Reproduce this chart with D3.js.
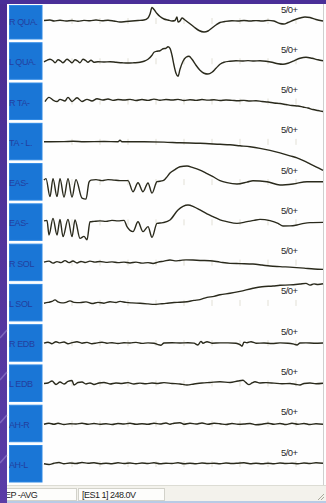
<!DOCTYPE html>
<html>
<head>
<meta charset="utf-8">
<script src="https://cdn.jsdelivr.net/npm/d3@7"></script>
<style>
  html, body { margin: 0; padding: 0; background: #fff; }
  svg { display: block; font-family: "Liberation Sans", Arial, sans-serif; }
</style>
</head>
<body>
<svg id="chart" width="326" height="503"></svg>
<script>
// channel names shown in the blue boxes
const channels = ['R QUA.', 'L QUA.', 'R TA-', 'TA - L.', 'EAS-', 'EAS-', 'R SOL', 'L SOL', 'R EDB', 'L EDB', 'AH-R', 'AH-L'];
// sensitivity / timebase label per channel
const gains = ['5/0+', '5/0+', '5/0+', '5/0+', '5/0+', '5/0+', '5/0+', '5/0+', '5/0+', '5/0+', '5/0+', '5/0+'];
const statusTexts = ['EP -AVG', '[ES1 1] 248.0V'];

// traces: [sample, amplitude]
const rQua = [[0,0.5],[6,1],[10,0],[16,0.8],[22,0],[28,0.5],[34,-0.3],[40,0.6],[46,0.2],[52,1],[58,0.3],[64,0.8],[70,0],[76,-1],[82,-0.5],[88,0],[94,0.5],[100,1],[104,3],[106,7],[108,13.5],[110,11.5],[113,7.5],[116,4.5],[120,2],[124,1],[128,0],[131,0.5],[133,4],[134,-1],[136,0],[138,3],[141,1],[145,-2],[150,-6],[155,-9.5],[160,-11],[164,-10],[168,-7],[172,-4],[176,-1.5],[181,-0.5],[188,0.3],[194,0],[200,0.5],[206,0],[212,0.4],[218,0],[224,0.6],[230,0],[236,-2.5],[240,-3],[244,-1.5],[250,1],[256,3],[261,4],[266,3.5],[272,1.5],[279,0]];
const lQua = [[0,-0.5],[3,1],[6,2],[9,0.5],[11,-1.5],[14,1.5],[17,0],[19,-1.5],[23,2],[26,0],[28,-1.5],[31,1.5],[34,0],[36,-1.5],[39,2],[42,0.5],[44,-1],[47,1],[50,-1],[54,-0.5],[60,-0.8],[66,-0.5],[72,-1],[78,-1.5],[84,-1.8],[90,-1.5],[96,-1],[100,0],[104,2],[108,6],[110,9],[113,10],[116,10.5],[119,12.5],[122,13],[124,14.5],[126,13],[128,6],[130,-4],[132,-12],[134,-15],[136,-8],[139,0],[142,4],[145,5],[148,2],[152,-4],[156,-9],[160,-12],[164,-12.8],[168,-11],[172,-7],[176,-3],[180,-1],[186,0],[192,0.5],[198,0.2],[204,0.6],[210,0.2],[216,0.5],[222,0],[228,-1],[234,-2.5],[239,-3],[244,-2],[250,0.5],[256,3],[262,4],[268,3],[274,1.5],[279,0.5]];
const rTa = [[1,0],[5,4.2],[9,1.5],[13,0],[16,2.2],[21,0.5],[24,4.2],[28,0],[33,3.8],[38,0],[43,2.2],[48,0.5],[53,2.8],[59,1.5],[64,2.5],[69,1.2],[74,2],[80,1.5],[86,2.2],[92,1],[98,2],[104,1.2],[110,2.4],[116,1.3],[122,2],[128,1.5],[134,2.2],[140,1],[146,1.8],[152,1.2],[158,2],[164,1.4],[170,1.8],[176,1],[182,1.5],[188,1.2],[194,0.8],[200,1.2],[206,0.5],[212,0.8],[218,0],[224,-0.5],[230,-1.5],[236,-2],[242,-3],[248,-4],[254,-4.5],[259,-5.5],[264,-6.5],[269,-8],[274,-9],[279,-10]];
const taL = [[0,0],[20,0.2],[29,0.5],[40,0],[60,0.3],[74,0],[76,1.5],[78,0],[100,0],[120,-0.3],[136,-1],[156,-1.5],[176,-2.5],[186,-3],[196,-4],[206,-5],[216,-6.5],[226,-8.5],[236,-11],[246,-14],[253,-16],[260,-19],[266,-22],[272,-25],[279,-28.5]];
const easR = [[0,2],[2,3.5],[6,-14.5],[9,3.5],[13,-14.5],[16,3.5],[20,-15],[24,3.5],[28,-15],[32,2.5],[38,-16],[42,-17],[45,0],[47,2],[52,2.5],[58,1.5],[64,2.5],[70,2],[76,1.5],[84,1.5],[89,-9.6],[94,-0.6],[99,-9.6],[104,-0.9],[108,-11],[113,0.4],[119,1.4],[122,4],[126,9],[131,12.5],[136,15.4],[143,16.1],[149,14.5],[156,12],[162,9],[169,5.4],[176,1.5],[183,-0.6],[193,-1.9],[203,0],[209,1.4],[223,0.4],[236,-2.9],[249,-1.9],[263,0.4],[279,0.4]];
const easL = [[0,1.5],[3,2],[5,-12.6],[9,4],[13,-12.6],[16,3],[19,-14.3],[24,3],[28,-14.3],[31,2.4],[36,-16],[40,-14],[43,-17.5],[46,0.6],[50,1],[56,1.5],[62,1],[68,2],[74,1.5],[80,2],[83,-4.3],[89,-9.3],[94,0.6],[99,-9.3],[104,-4.3],[108,-15],[113,-1],[119,-0.3],[126,2.4],[134,12.4],[139,16],[144,17.4],[150,15.5],[156,12.4],[163,8.5],[169,5.7],[176,2.5],[183,0.7],[193,-1],[203,0.7],[210,2],[216,3],[226,1.7],[234,-1],[239,-3.6],[246,-3.5],[253,-2.6],[260,-1],[266,-0.3],[279,0]];
const rSol = [[0,0.5],[5,1.5],[9,-0.5],[13,1],[17,0],[21,2],[25,0],[29,1.6],[33,-0.3],[37,1.2],[41,0.2],[46,1.5],[51,0.5],[56,1.2],[62,0.3],[68,0.8],[74,0],[80,0.5],[86,-0.3],[92,0.5],[98,-0.5],[104,0],[109,-0.8],[114,0.5],[120,1.5],[126,2.6],[131,1.8],[136,2.2],[142,2.8],[149,2.6],[156,2.2],[166,1.9],[176,0.5],[186,-0.7],[196,-1],[209,-1.4],[218,-2.4],[226,-3.4],[236,-4],[249,-4.7],[260,-5.5],[270,-6.3],[279,-6.7]];
const lSol = [[0,-0.3],[4,0.5],[8,1.5],[11,3],[14,1],[18,0],[22,0.6],[26,2],[30,0.5],[36,0.3],[42,1],[48,-0.6],[54,0.5],[60,-0.3],[66,1.2],[72,0.4],[76,1.5],[82,0.5],[88,0],[96,-0.4],[104,-1],[110,-1.5],[116,-1],[122,-0.5],[130,0.4],[136,0.6],[143,1.2],[150,2.5],[156,3.3],[163,5.6],[170,6.5],[176,8.2],[186,9.6],[196,11.5],[209,14.6],[218,16.2],[229,16.9],[236,17.6],[246,18],[256,18.9],[262,19.5],[266,17.8],[270,19],[274,18.4],[279,19.2]];
const rEdb = [[0,0],[4,1],[8,-0.5],[12,1.5],[16,0.3],[20,1.2],[24,-0.5],[28,0.5],[33,1.5],[38,0],[43,0.8],[48,-0.5],[53,0.3],[58,1],[63,0],[68,0.5],[74,-0.3],[80,0.5],[86,0.2],[92,0.8],[98,-0.2],[104,0.3],[110,0],[114,-1.5],[117,-2],[120,0.2],[128,0.5],[136,0.2],[144,0.5],[150,0],[154,-1.8],[157,1.8],[159,0],[163,1.5],[168,0],[176,0.3],[184,0.3],[192,0],[196,-1.5],[198,-3],[200,1],[203,0.5],[207,1.5],[212,0],[220,0.2],[228,-0.3],[236,0.3],[244,0],[250,-1],[253,-1.8],[256,0.2],[262,0.3],[270,0],[279,0.2]];
const lEdb = [[0,0],[4,0.5],[8,2.5],[12,-1],[16,1.5],[20,-0.5],[24,2],[28,3],[30,-1.5],[34,1],[38,1.5],[42,-0.5],[46,0.5],[50,-1],[55,0.5],[60,1],[66,-0.5],[72,0.5],[78,0],[84,0.8],[90,-0.5],[96,0.3],[102,-0.3],[108,0.5],[114,0],[120,0.8],[128,0],[136,-0.5],[143,-1.5],[150,-0.5],[158,0.5],[166,1],[176,1.7],[186,1],[194,2.5],[199,3.2],[202,0.8],[205,-1.2],[208,0.5],[211,1.7],[216,0.5],[222,0.8],[230,0.3],[238,-0.3],[246,0],[252,-1],[256,-1.5],[260,0],[266,0.5],[272,-0.3],[279,0.2]];
const ahR = [[0,-0.5],[5,0.5],[10,-0.5],[14,0.5],[20,-0.8],[26,0],[32,-0.3],[38,0.5],[44,-0.5],[50,0.3],[56,-0.5],[62,0],[68,-0.8],[74,0.2],[80,-0.3],[86,0.5],[92,-0.5],[98,0],[104,-0.5],[110,0.5],[116,-0.3],[122,0.8],[126,-0.5],[130,0.5],[136,1],[140,-0.5],[146,0.5],[152,-0.3],[158,0.8],[164,-0.5],[170,0.5],[176,0],[182,-0.8],[188,0.2],[194,-0.5],[200,-0.3],[206,0.2],[212,-1],[218,-0.5],[224,0.5],[230,-0.5],[236,0.3],[242,-0.8],[248,0.5],[254,-0.5],[260,0.3],[266,-0.8],[272,0],[279,-0.5]];
const ahL = [[0,0.3],[5,-0.5],[10,0.8],[15,1.5],[20,0.3],[26,1],[32,0.5],[38,1.5],[44,0.8],[50,1.2],[56,0.3],[62,0.8],[68,0.3],[74,1.2],[80,0.5],[86,1],[92,0.2],[98,1],[104,0.5],[110,1.3],[116,0.3],[122,0.8],[128,0.5],[134,1.2],[140,0.2],[146,0.8],[152,0.3],[158,1],[164,0.5],[170,0.8],[176,0.2],[182,1],[188,0.5],[194,0.8],[200,1.2],[206,0.3],[212,0.8],[218,0.2],[224,0.7],[230,0.3],[236,1],[242,0.5],[248,0.8],[254,0.3],[260,1],[266,0.5],[272,1.2],[279,0.7]];

const traces = [rQua, lQua, rTa, taL, easR, easL, rSol, lSol, rEdb, lEdb, ahR, ahL];

const svg = d3.select('#chart');
const W = 326, H = 503;

svg.append('rect').attr('width', W).attr('height', H).attr('fill', '#fefefe');

// scales
const x = d3.scaleLinear().domain([0, 279]).range([44, 323]);
const chY = d3.scalePoint().domain(d3.range(channels.length)).range([21, 464]);
const amp = d3.scaleLinear().domain([-20, 20]).range([20, -20]);

// right frame line
svg.append('line').attr('x1', 323.5).attr('x2', 323.5).attr('y1', 0).attr('y2', 486)
  .attr('stroke', '#cfcfcf');

// faint ticks along each trace
const tickVals = d3.range(28, 279, 28);
channels.forEach((c, i) => {
  const cy = chY(i);
  svg.append('g').selectAll('line').data(tickVals).enter().append('line')
    .attr('x1', d => x(d)).attr('x2', d => x(d))
    .attr('y1', cy - 3).attr('y2', cy + 3)
    .attr('stroke', '#e2e0d6').attr('stroke-width', 1);
});

// label boxes
const defs = svg.append('defs');
const boxes = svg.append('g');
channels.forEach((c, i) => {
  const cy = chY(i);
  const top = Math.max(5.5, cy - 18.5);
  const bot = cy + 18;
  defs.append('clipPath').attr('id', 'clip' + i)
    .append('rect').attr('x', 9).attr('y', top).attr('width', 33).attr('height', bot - top);
  boxes.append('rect')
    .attr('x', 9.5).attr('y', top).attr('width', 32.5).attr('height', bot - top)
    .attr('fill', '#1a76d6').attr('stroke', '#2d88e4').attr('stroke-width', 1);
  boxes.append('text')
    .attr('clip-path', 'url(#clip' + i + ')')
    .attr('x', 9).attr('y', cy + 4)
    .attr('font-size', 9).attr('letter-spacing', -0.4)
    .attr('fill', '#233f9e')
    .text(c);
});

// traces
const line = d3.line()
  .x(d => x(d[0]))
  .curve(d3.curveMonotoneX);

traces.forEach((tr, i) => {
  const cy = chY(i);
  svg.append('path')
    .datum(tr)
    .attr('d', line.y(d => cy + amp(d[1])))
    .attr('fill', 'none')
    .attr('stroke', '#2a2a1c')
    .attr('stroke-width', 1.4)
    .attr('stroke-linejoin', 'round');
});

// sensitivity labels
svg.append('g').selectAll('text').data(gains).enter().append('text')
  .attr('x', 281).attr('y', (d, i) => chY(i) - 8.5)
  .attr('font-size', 9.5).attr('letter-spacing', -0.6)
  .attr('fill', '#2a2a2a')
  .text(d => d);

// status bar
const sb = svg.append('g');
sb.append('rect').attr('x', 0).attr('y', 485).attr('width', W).attr('height', 18).attr('fill', '#f3f2ec');
sb.append('line').attr('x1', 0).attr('x2', W).attr('y1', 485.5).attr('y2', 485.5).attr('stroke', '#dcdcd4');
sb.append('rect').attr('x', 6.5).attr('y', 488.5).attr('width', 70).attr('height', 12).attr('fill', '#fdfdfb')
  .attr('stroke', '#d2d2ca');
sb.append('rect').attr('x', 78.5).attr('y', 488.5).attr('width', 86).attr('height', 12).attr('fill', '#fdfdfb')
  .attr('stroke', '#d2d2ca');
sb.selectAll('text.st').data(statusTexts).enter().append('text')
  .attr('class', 'st')
  .attr('x', (d, i) => i === 0 ? 5 : 82).attr('y', 498)
  .attr('font-size', 9).attr('letter-spacing', -0.5)
  .attr('fill', '#1e1e1e')
  .text(d => d);
sb.append('line').attr('x1', 0).attr('x2', W).attr('y1', 502).attr('y2', 502).attr('stroke', '#b8cbe6').attr('stroke-width', 2);
// resize grip
[[318, 500, 324, 494], [321, 500, 324, 497]].forEach(g => {
  sb.append('line').attr('x1', g[0]).attr('y1', g[1]).attr('x2', g[2]).attr('y2', g[3])
    .attr('stroke', '#a8a89a');
});

// purple frame
const grad = defs.append('linearGradient').attr('id', 'pg').attr('x1', 0).attr('y1', 0).attr('x2', 0).attr('y2', 1);
grad.append('stop').attr('offset', 0).attr('stop-color', '#4a2c92');
grad.append('stop').attr('offset', 1).attr('stop-color', '#5a3ca6');
svg.append('rect').attr('x', 0).attr('y', 0).attr('width', 7).attr('height', H).attr('fill', 'url(#pg)');
svg.append('rect').attr('x', 0).attr('y', 0).attr('width', W).attr('height', 4).attr('fill', '#4a2f98');
[[330, 8], [372, 8], [415, 8], [455, 8]].forEach(s => {
  svg.append('line').attr('x1', 0).attr('y1', s[0] + s[1]).attr('x2', 7).attr('y2', s[0])
    .attr('stroke', '#9a86d0').attr('stroke-opacity', 0.6).attr('stroke-width', 1.5);
});
</script>
</body>
</html>
